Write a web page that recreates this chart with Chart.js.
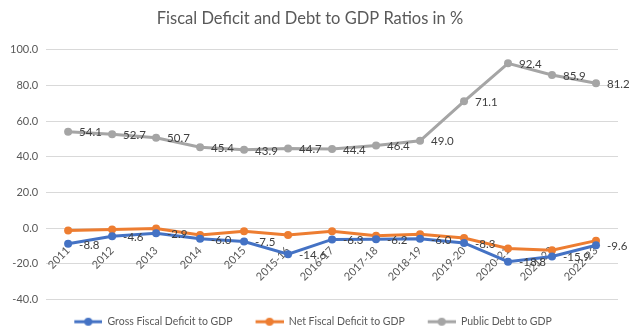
<!DOCTYPE html>
<html>
<head>
<meta charset="utf-8">
<script src="https://cdn.jsdelivr.net/npm/chart.js@4/dist/chart.umd.min.js"></script>
<style>
  html, body { margin: 0; padding: 0; background: #fff; }
  #wrap { width: 630px; height: 326px; }
</style>
</head>
<body>
<div id="wrap"><canvas id="chart"></canvas></div>
<script>
// Datos del gráfico
const years = ['2011', '2012', '2013', '2014', '2015', '2015-16', '2016-17', '2017-18', '2018-19', '2019-20', '2020-21', '2021-22', '2022-23'];
const grossDeficit = [-8.8, -4.6, -2.9, -6.0, -7.5, -14.6, -6.3, -6.2, -6.0, -8.3, -18.8, -15.9, -9.6];
const netDeficit = [-1.3, -0.7, -0.2, -3.8, -1.7, -3.8, -1.7, -4.2, -3.4, -5.5, -11.4, -12.4, -7.0];
const publicDebt = [54.1, 52.7, 50.7, 45.4, 43.9, 44.7, 44.4, 46.4, 49.0, 71.1, 92.4, 85.9, 81.2];
const yTicks = [-40, -20, 0, 20, 40, 60, 80, 100];

const FONT = 'Lato, "Open Sans", sans-serif';
const TEXT = '#595959';

// icono de leyenda: línea con marcador (con margen a la izquierda)
function legendIcon(color) {
    const c = document.createElement('canvas');
    c.width = 34;
    c.height = 10;
    const g = c.getContext('2d');
    g.strokeStyle = color;
    g.lineWidth = 3;
    g.beginPath();
    g.moveTo(6, 5);
    g.lineTo(34, 5);
    g.stroke();
    g.fillStyle = color;
    g.beginPath();
    g.arc(20, 5, 4, 0, Math.PI * 2);
    g.fill();
    return c;
}

// etiquetas de datos a la derecha de cada punto
const valueLabels = {
    id: 'valueLabels',
    afterDatasetsDraw(chart) {
        const ctx = chart.ctx;
        ctx.save();
        ctx.font = '11.5px ' + FONT;
        ctx.fillStyle = '#404040';
        ctx.textAlign = 'left';
        ctx.textBaseline = 'middle';
        chart.data.datasets.forEach((ds, i) => {
            if (!ds.showLabels) return;
            chart.getDatasetMeta(i).data.forEach((pt, j) => {
                ctx.fillText(ds.data[j].toFixed(1), pt.x + 11, pt.y + 1);
            });
        });
        ctx.restore();
    }
};

const series = [
    { label: 'Gross Fiscal Deficit to GDP', data: grossDeficit, color: '#4472C4', showLabels: true },
    { label: 'Net Fiscal Deficit to GDP', data: netDeficit, color: '#ED7D31', showLabels: false },
    { label: 'Public Debt to GDP', data: publicDebt, color: '#A5A5A5', showLabels: true }
];

new Chart(document.getElementById('chart'), {
    type: 'line',
    data: {
        labels: years,
        datasets: series.map(s => ({
            label: s.label,
            data: s.data,
            borderColor: s.color,
            backgroundColor: s.color,
            borderWidth: 3,
            pointRadius: 4,
            pointBorderWidth: 0,
            tension: 0,
            showLabels: s.showLabels
        }))
    },
    options: {
        responsive: true,
        maintainAspectRatio: false,
        animation: false,
        layout: { padding: { left: 2, right: 12, top: 3, bottom: -11 } },
        plugins: {
            title: {
                display: true,
                text: 'Fiscal Deficit and Debt to GDP Ratios in %',
                color: TEXT,
                font: { family: FONT, size: 16.5, weight: 'normal' },
                padding: { top: 6, bottom: 21 }
            },
            legend: {
                position: 'bottom',
                labels: {
                    color: TEXT,
                    font: { family: FONT, size: 10.5 },
                    usePointStyle: true,
                    pointStyleWidth: 34,
                    padding: 17,
                    generateLabels(chart) {
                        const items = Chart.defaults.plugins.legend.labels.generateLabels(chart);
                        items.forEach(it => { it.pointStyle = legendIcon(series[it.datasetIndex].color); });
                        return items;
                    }
                }
            },
            tooltip: { enabled: false }
        },
        scales: {
            x: {
                position: { y: 0 },
                offset: true,
                grid: { display: false },
                border: { display: false },
                ticks: {
                    color: TEXT,
                    font: { family: FONT, size: 11 },
                    minRotation: 45,
                    maxRotation: 45,
                    autoSkip: false,
                    padding: 8
                }
            },
            y: {
                min: -40,
                max: 100,
                afterBuildTicks(scale) {
                    scale.ticks = yTicks.map(v => ({ value: v }));
                },
                grid: { color: '#D9D9D9', drawTicks: false },
                border: { display: false },
                ticks: {
                    color: TEXT,
                    font: { family: FONT, size: 11 },
                    padding: 8,
                    callback: v => Number(v).toFixed(1)
                }
            }
        }
    },
    plugins: [valueLabels]
});
</script>
</body>
</html>
